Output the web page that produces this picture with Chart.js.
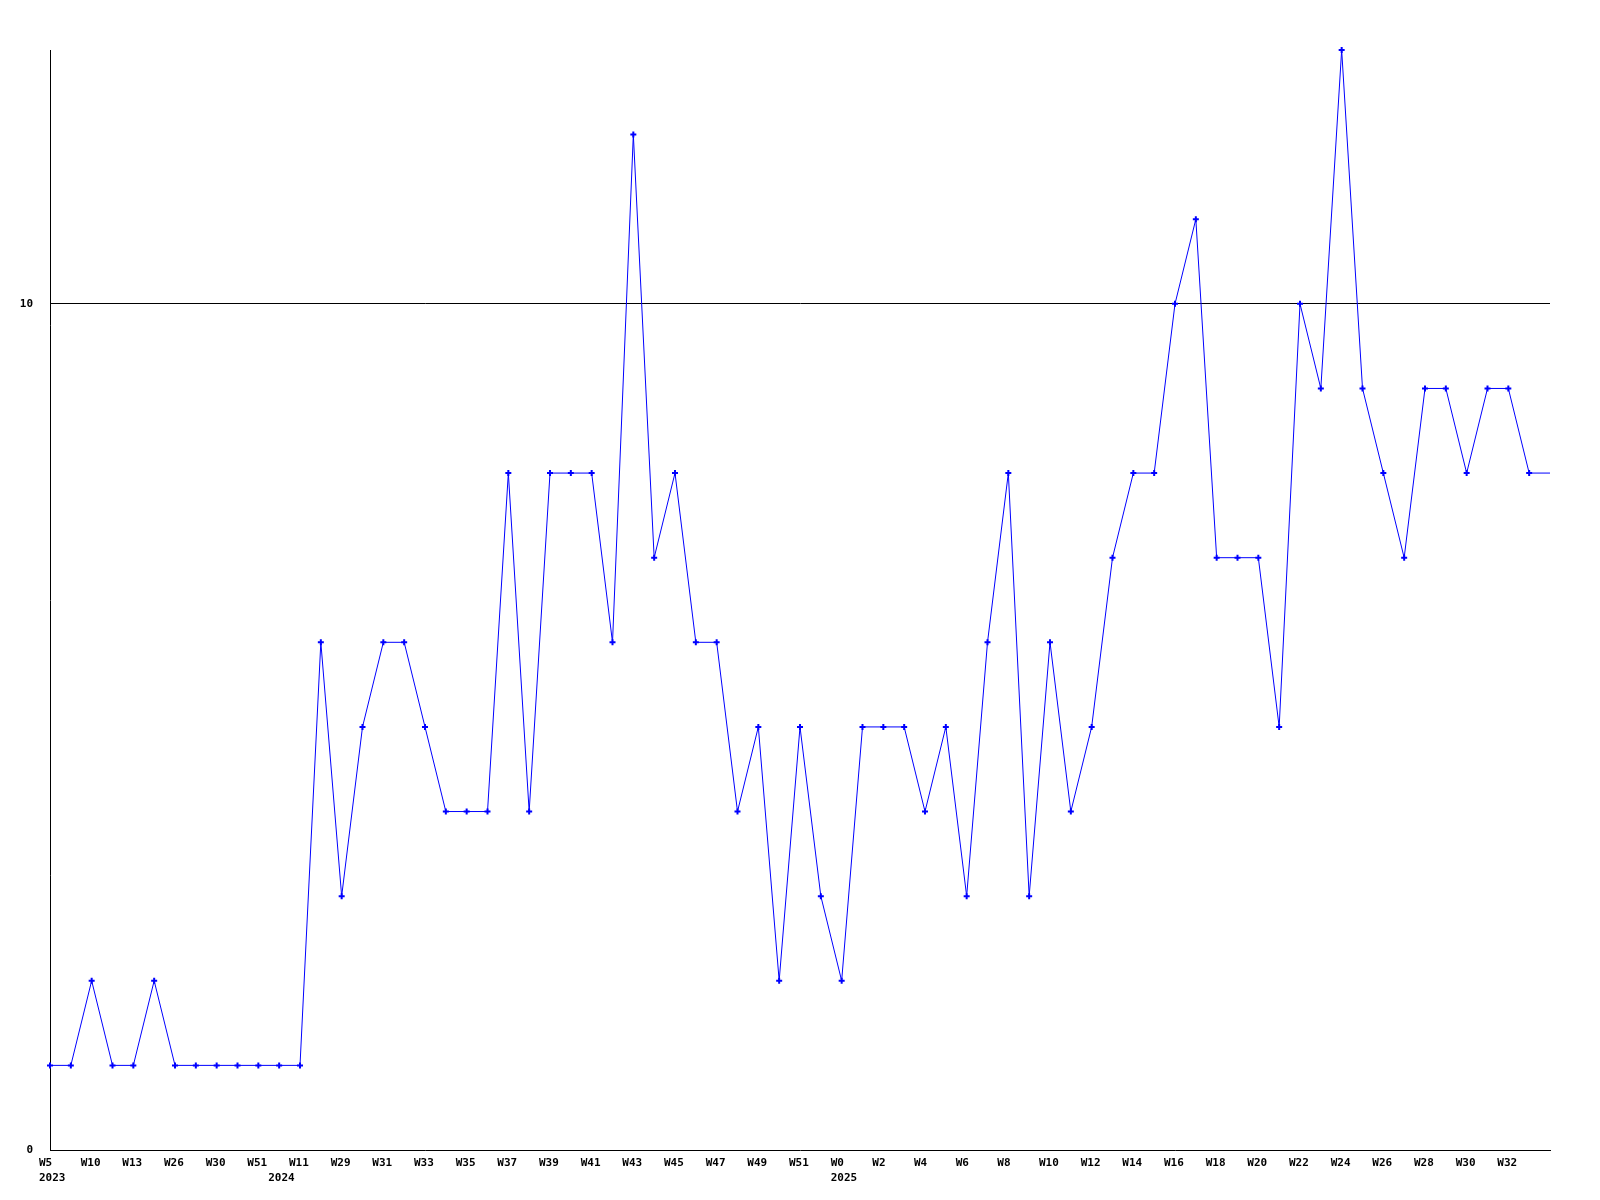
<!DOCTYPE html>
<html>
<head>
<meta charset="utf-8">
<script src="https://cdn.jsdelivr.net/npm/chart.js@4"></script>
<style>
  body { margin: 0; background: #fff; }
  canvas { display: block; }
</style>
</head>
<body>
<canvas id="weekChart" width="1600" height="1200"></canvas>
<script>
// Weekly counts
const weeks = ['W5','W7','W10','W12','W13','W20','W26','W28','W30','W48','W51','W2',
  'W11','W28','W29','W30','W31','W32','W33','W34','W35','W36','W37','W38','W39','W40',
  'W41','W42','W43','W44','W45','W46','W47','W48','W49','W50','W51','W52',
  'W0','W1','W2','W3','W4','W5','W6','W7','W8','W9','W10','W11','W12','W13','W14','W15',
  'W16','W17','W18','W19','W20','W21','W22','W23','W24','W25','W26','W27','W28','W29',
  'W30','W31','W32','W33','W34'];
const years = [2023,2023,2023,2023,2023,2023,2023,2023,2023,2023,2023,2024,
  2024,2024,2024,2024,2024,2024,2024,2024,2024,2024,2024,2024,2024,2024,
  2024,2024,2024,2024,2024,2024,2024,2024,2024,2024,2024,2024,
  2025,2025,2025,2025,2025,2025,2025,2025,2025,2025,2025,2025,2025,2025,2025,2025,
  2025,2025,2025,2025,2025,2025,2025,2025,2025,2025,2025,2025,2025,2025,
  2025,2025,2025,2025,2025];
const values = [1,1,2,1,1,2,1,1,1,1,1,1,1,6,3,5,6,6,5,4,4,4,8,4,8,8,8,6,12,7,8,6,6,4,5,2,5,3,
  2,5,5,5,4,5,3,6,8,3,6,4,5,7,8,8,10,11,7,7,7,5,10,9,13,9,8,7,9,9,8,9,9,8,8];
const yTicks = [0, 10];

const font = { family: '"DejaVu Sans Mono", monospace', size: 11, weight: 'bold', lineHeight: 1.4 };

const ctx = document.getElementById('weekChart').getContext('2d');
new Chart(ctx, {
  type: 'line',
  data: {
    labels: weeks,
    datasets: [{
      data: values,
      borderColor: '#0000ff',
      backgroundColor: '#0000ff',
      borderWidth: 1,
      tension: 0,
      fill: false,
      clip: false,
      pointStyle: 'cross',
      pointRadius: c => c.dataIndex === values.length - 1 ? 0 : 3,
      pointBorderWidth: 2,
      pointHoverRadius: 3
    }]
  },
  options: {
    responsive: false,
    animation: false,
    layout: { padding: { top: 50, right: 50, left: 0, bottom: 0 } },
    plugins: { legend: { display: false }, tooltip: { enabled: false } },
    scales: {
      x: {
        offset: false,
        grid: { display: false, drawTicks: false },
        border: { display: true, color: '#000', width: 1 },
        afterFit: s => { s.height = 50; },
        ticks: {
          color: '#000',
          font: font,
          padding: 5,
          align: 'start',
          labelOffset: -11,
          autoSkip: false,
          maxRotation: 0,
          callback: (v, i) => {
            const wk = (i % 2 === 0 && i < values.length - 1) ? weeks[i] : '';
            if (i === 0 || years[i - 1] !== years[i]) return [wk, String(years[i])];
            return wk;
          }
        }
      },
      y: {
        min: 0,
        max: 13,
        afterBuildTicks: s => { s.ticks = yTicks.map(v => ({ value: v })); },
        afterFit: s => { s.width = 50; },
        grid: {
          drawTicks: false,
          color: c => c.tick && c.tick.value === 10 ? '#000' : 'rgba(0,0,0,0)',
          lineWidth: 1
        },
        border: { display: true, color: '#000', width: 1 },
        ticks: { color: '#000', font: font, padding: 17 }
      }
    }
  }
});
</script>
</body>
</html>
